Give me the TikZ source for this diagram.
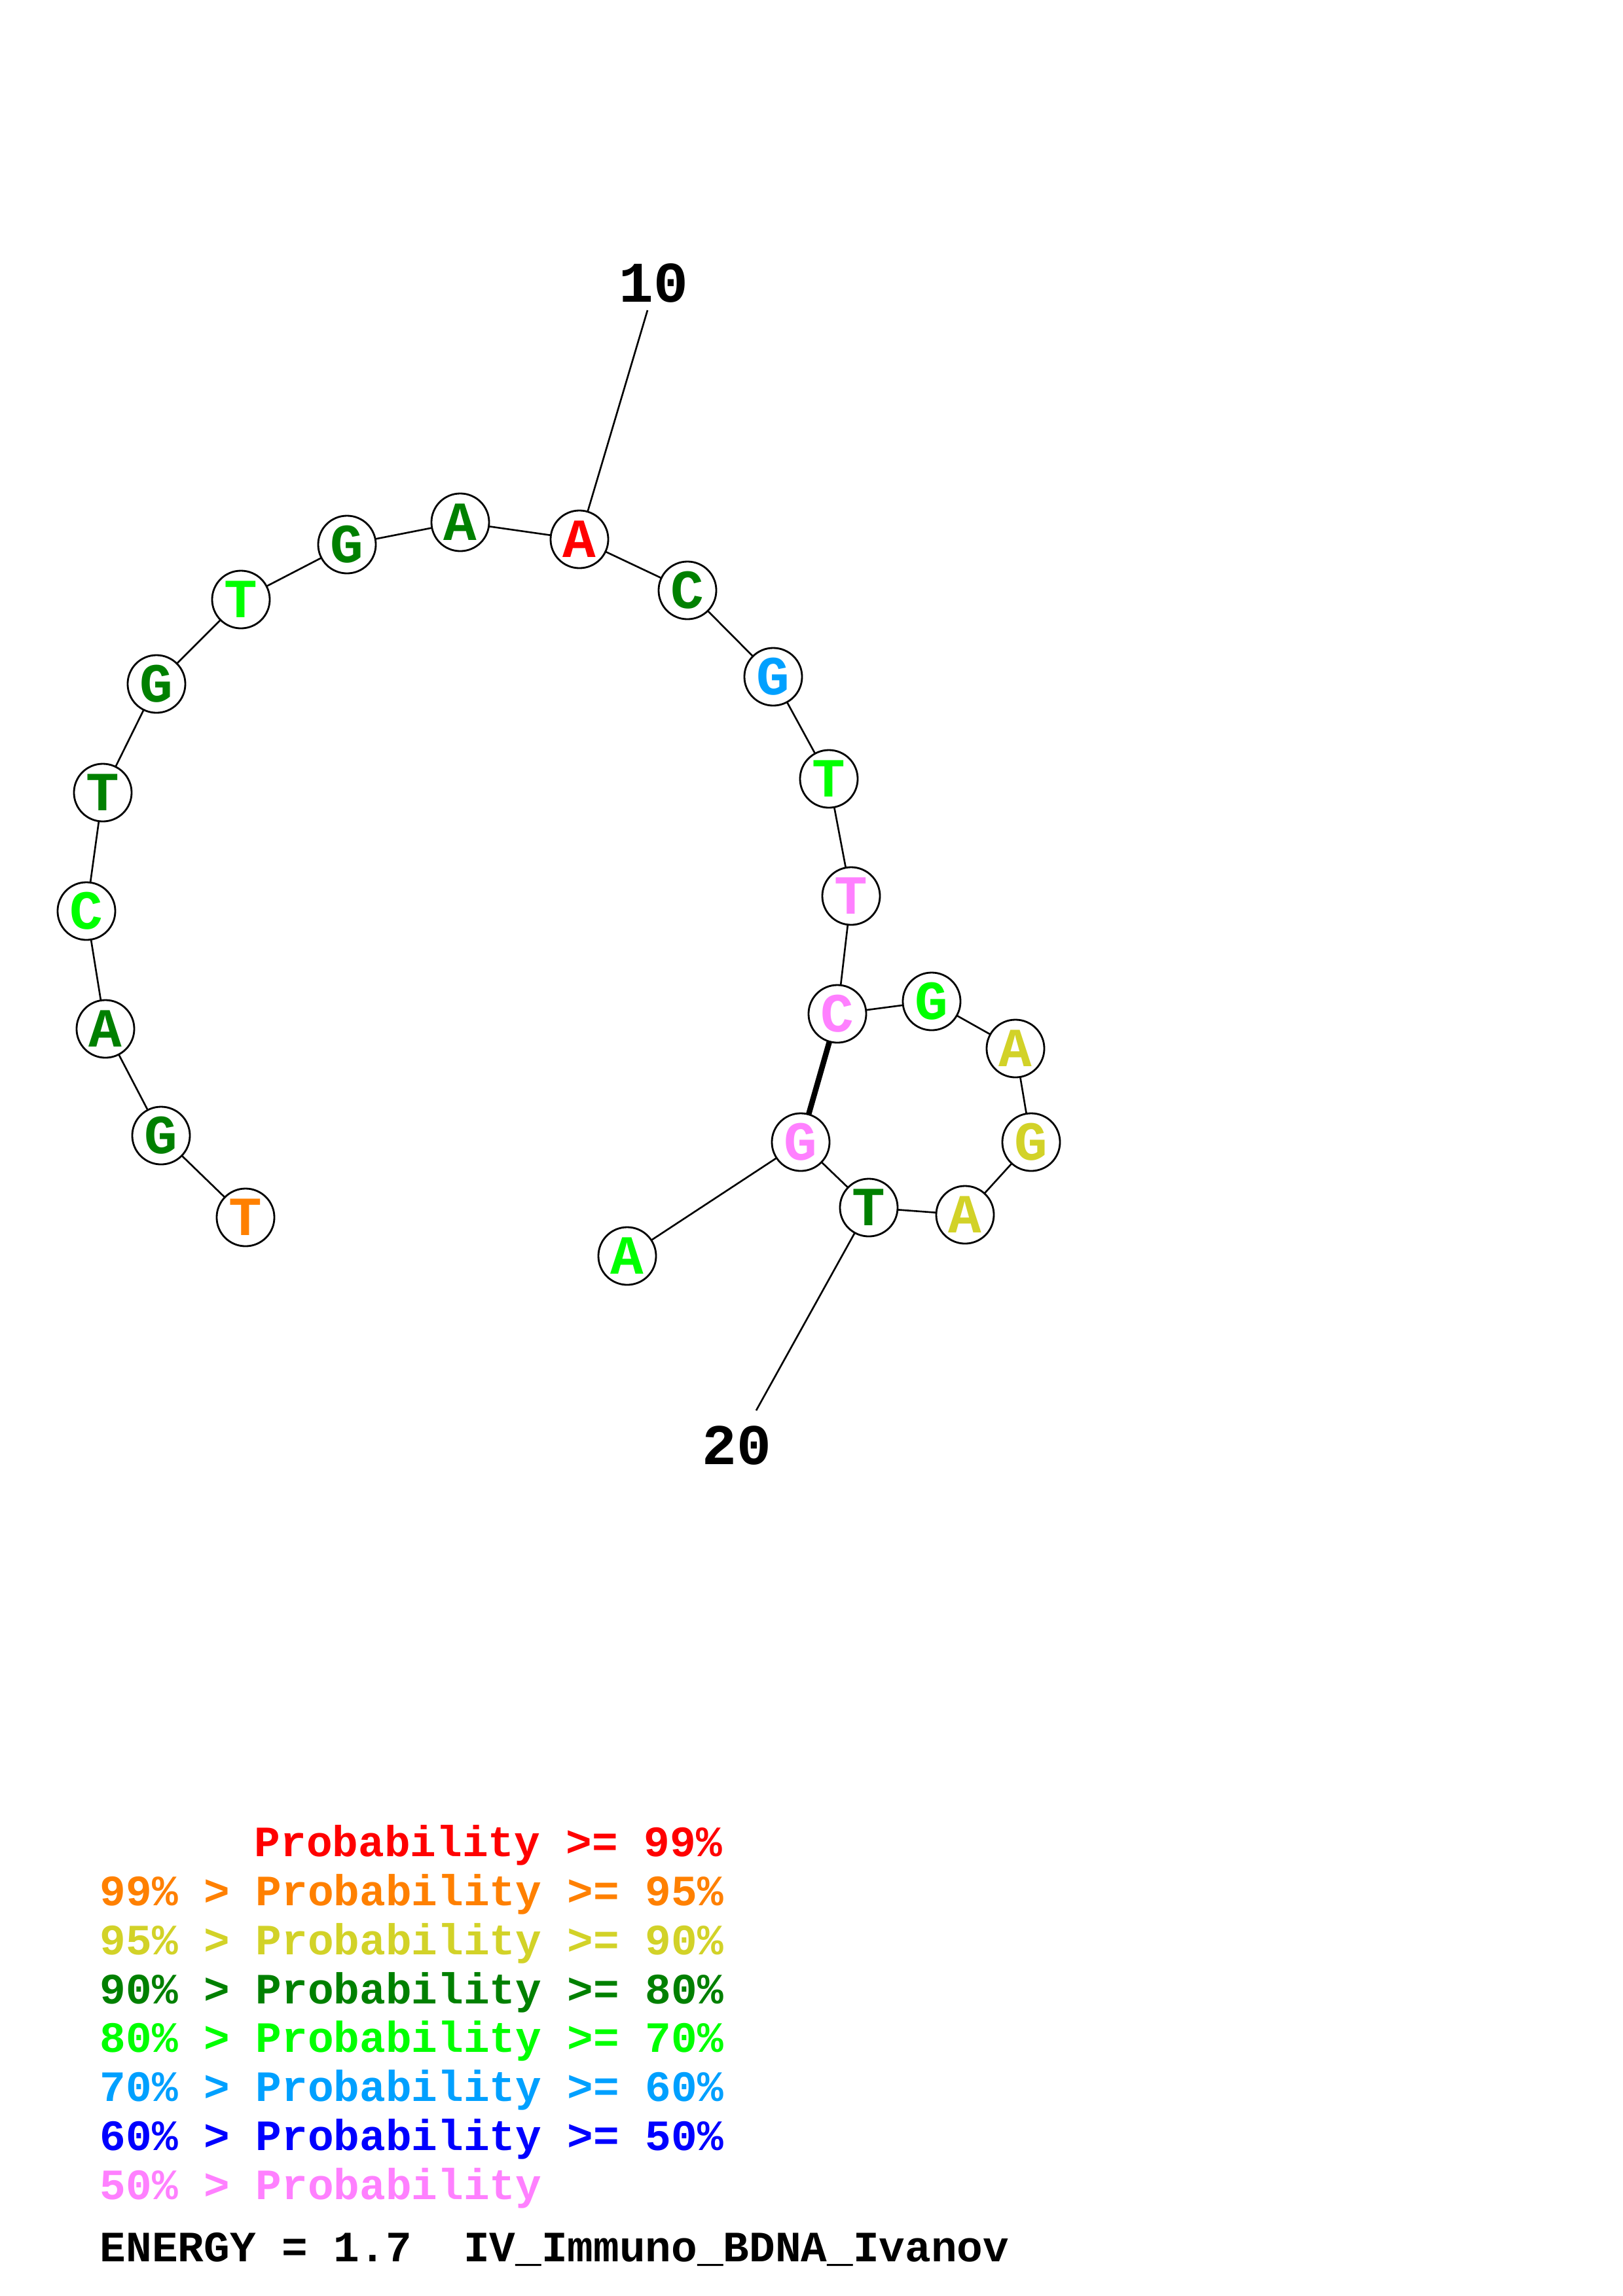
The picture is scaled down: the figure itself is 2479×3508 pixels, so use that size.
\documentclass[tikz,border=0pt]{standalone}
\usepackage{fontspec}
\newfontfamily\cour{Liberation Mono}
\definecolor{pR}{RGB}{255,0,0}
\definecolor{pO}{RGB}{255,128,0}
\definecolor{pY}{RGB}{210,210,40}
\definecolor{pDG}{RGB}{0,128,0}
\definecolor{pG}{RGB}{0,255,0}
\definecolor{pLB}{RGB}{0,160,255}
\definecolor{pB}{RGB}{0,0,255}
\definecolor{pP}{RGB}{255,128,255}
\tikzset{
  base/.style={circle,draw=black,line width=0.8pt,fill=white,minimum size=0.88cm,inner sep=0pt,font=\cour\bfseries\fontsize{24}{24}\selectfont},
  bb/.style={line width=0.75pt,black},
  pair/.style={line width=2.4pt,black},
  numlab/.style={inner sep=0pt,font=\cour\bfseries\fontsize{25}{25}\selectfont},
  leg/.style={anchor=base west,inner sep=0pt,font=\cour\bfseries\fontsize{18.8}{18.8}\selectfont}
}
\begin{document}
\begin{tikzpicture}[x=0.01cm,y=-0.01cm]
\useasboundingbox (0,0) rectangle (2479,3508);
\fill[white] (0,0) rectangle (2479,3508);
\coordinate (c1) at (375,1860);
\coordinate (c2) at (246,1735);
\coordinate (c3) at (161,1572);
\coordinate (c4) at (132,1392);
\coordinate (c5) at (157,1211);
\coordinate (c6) at (239,1045);
\coordinate (c7) at (368,916);
\coordinate (c8) at (530,832);
\coordinate (c9) at (703,798);
\coordinate (c10) at (885,824);
\coordinate (c11) at (1050,902);
\coordinate (c12) at (1181,1034);
\coordinate (c13) at (1266,1190);
\coordinate (c14) at (1300,1369);
\coordinate (c15) at (1279,1549);
\coordinate (c16) at (1423,1530);
\coordinate (c17) at (1551,1602);
\coordinate (c18) at (1575,1745);
\coordinate (c19) at (1474,1856);
\coordinate (c20) at (1327,1845);
\coordinate (c21) at (1223,1745);
\coordinate (c22) at (958,1919);
\coordinate (t10) at (989,474);
\coordinate (t20) at (1155,2155);
\draw[bb] (c1)--(c2)--(c3)--(c4)--(c5)--(c6)--(c7)--(c8)--(c9)--(c10)--(c11)--(c12)--(c13)--(c14)--(c15)--(c16)--(c17)--(c18)--(c19)--(c20)--(c21)--(c22);
\draw[bb] (t10)--(c10);
\draw[bb] (t20)--(c20);
\draw[pair] (c15)--(c21);
\node[base,text=pO]  (n1)  at (c1)  {T};
\node[base,text=pDG] (n2)  at (c2)  {G};
\node[base,text=pDG] (n3)  at (c3)  {A};
\node[base,text=pG]  (n4)  at (c4)  {C};
\node[base,text=pDG] (n5)  at (c5)  {T};
\node[base,text=pDG] (n6)  at (c6)  {G};
\node[base,text=pG]  (n7)  at (c7)  {T};
\node[base,text=pDG] (n8)  at (c8)  {G};
\node[base,text=pDG] (n9)  at (c9)  {A};
\node[base,text=pR]  (n10) at (c10) {A};
\node[base,text=pDG] (n11) at (c11) {C};
\node[base,text=pLB] (n12) at (c12) {G};
\node[base,text=pG]  (n13) at (c13) {T};
\node[base,text=pP]  (n14) at (c14) {T};
\node[base,text=pP]  (n15) at (c15) {C};
\node[base,text=pG]  (n16) at (c16) {G};
\node[base,text=pY]  (n17) at (c17) {A};
\node[base,text=pY]  (n18) at (c18) {G};
\node[base,text=pY]  (n19) at (c19) {A};
\node[base,text=pDG] (n20) at (c20) {T};
\node[base,text=pP]  (n21) at (c21) {G};
\node[base,text=pG]  (n22) at (c22) {A};
\node[numlab] (l10) at (998,433) {10};
\node[numlab] (l20) at (1125,2208) {20};
\node[leg,text=pR]  (g1) at (388,2836) {Probability >= 99\%};
\node[leg,text=pO]  (g2) at (152,2911) {99\% > Probability >= 95\%};
\node[leg,text=pY]  (g3) at (152,2986) {95\% > Probability >= 90\%};
\node[leg,text=pDG] (g4) at (152,3061) {90\% > Probability >= 80\%};
\node[leg,text=pG]  (g5) at (152,3135) {80\% > Probability >= 70\%};
\node[leg,text=pLB] (g6) at (152,3210) {70\% > Probability >= 60\%};
\node[leg,text=pB]  (g7) at (152,3285) {60\% > Probability >= 50\%};
\node[leg,text=pP]  (g8) at (152,3360) {50\% > Probability};
\node[leg,text=black] (en) at (152,3455) {ENERGY = 1.7\ \ IV\_Immuno\_BDNA\_Ivanov};
\end{tikzpicture}
\end{document}
